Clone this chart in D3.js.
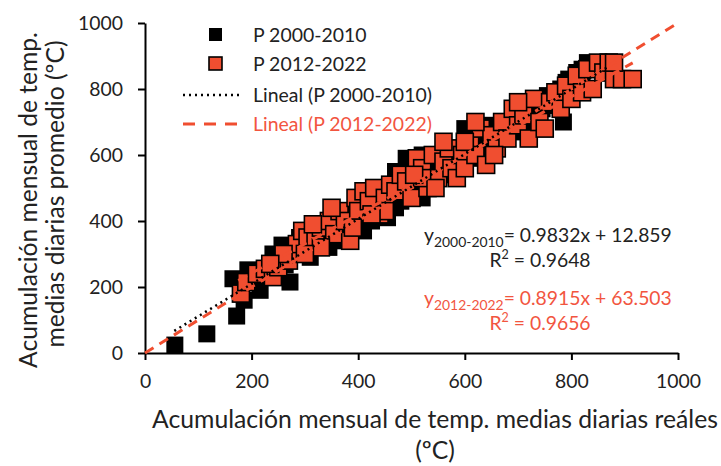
<!DOCTYPE html>
<html><head><meta charset="utf-8">
<script src="https://cdn.jsdelivr.net/npm/d3@7"></script>
<style>
body{margin:0;background:#fff;}
text{font-family:Lato,"Open Sans",sans-serif;}
</style></head>
<body><svg id="c" width="721" height="466"></svg>
<script>
const xTicks = [0,200,400,600,800,1000];
const yTicks = [0,200,400,600,800,1000];
const seriesNames = ["P 2000-2010","P 2012-2022"];
const lineNames = ["Lineal (P 2000-2010)","Lineal (P 2012-2022)"];
const fitBlack = {slope:0.9832, intercept:12.859, r2:0.9648, xmin:55, xmax:870};
const fitRed = {slope:0.8915, intercept:63.503, r2:0.9656, xmin:175, xmax:915};
const blackPts = [[56,24],[116,58],[172,112],[186,160],[165,225],[193,252],[216,190],[272,215],[257,327],[263,267],[205,240],[228,250],[250,280],[280,300],[300,310],[310,290],[330,330],[345,320],[360,350],[370,340],[385,375],[400,390],[410,370],[425,400],[440,420],[455,410],[470,440],[480,460],[495,470],[510,490],[520,470],[530,510],[545,520],[560,540],[575,560],[585,545],[600,580],[615,600],[625,590],[640,620],[650,640],[660,630],[675,660],[690,690],[700,670],[715,700],[730,720],[745,740],[760,750],[775,760],[785,700],[790,820],[800,790],[810,850],[820,830],[835,860],[845,870],[860,870],[870,860],[240,300],[290,350],[320,360],[350,380],[380,420],[420,450],[460,480],[500,530],[540,560],[580,600],[620,640],[660,680],[700,720],[740,770],[780,800],[820,860],[265,320],[315,335],[355,365],[395,410],[435,460],[475,500],[515,540],[555,580],[595,620],[635,660],[675,700],[715,740],[755,780],[795,830],[830,880],[705,760],[645,690],[690,740],[565,620],[450,500],[470,550],[520,600],[490,590],[600,680]];
const redPts = [[180,180],[190,215],[210,240],[225,255],[240,230],[250,260],[270,280],[285,330],[295,370],[305,350],[320,340],[330,380],[345,400],[355,360],[365,430],[375,400],[385,340],[395,470],[400,430],[410,490],[420,460],[430,500],[440,420],[450,470],[460,510],[470,490],[480,540],[490,520],[500,470],[510,590],[520,560],[530,500],[540,600],[550,530],[560,580],[570,620],[575,560],[585,530],[595,600],[600,560],[610,640],[620,600],[630,680],[640,570],[650,660],[660,620],[670,700],[680,650],[690,740],[700,690],[710,720],[720,650],[730,770],[740,700],[750,680],[760,760],[770,790],[780,740],[790,810],[800,770],[810,840],[820,790],[830,860],[840,800],[850,880],[860,850],[870,880],[880,830],[895,830],[915,830],[880,880],[620,700],[560,640],[520,530],[450,430],[390,380],[330,320],[300,300],[260,300],[235,270],[600,640],[700,760],[655,600],[505,540],[545,500],[425,420],[350,440],[315,390]];

const RED = "#f04e30", RED_TXT = "#f2553f", TXT = "#222";
const svg = d3.select("#c");
const x = d3.scaleLinear().domain([0,1000]).range([145,678]);
const y = d3.scaleLinear().domain([0,1000]).range([353,23]);

// size a font so a reference text reaches a given width
function fitSize(str, base, target){
  const t = svg.append("text").attr("font-size",base).text(str);
  const w = t.node().getComputedTextLength(); t.remove();
  return base*target/w;
}
const tickFS = fitSize("1000",18,45);
const titleFS = fitSize("Acumulación mensual de temp. medias diarias reáles",21,566);
const yTitleFS = fitSize("Acumulación mensual de temp.",21,336);
const legFS = fitSize(lineNames[0],17,179);
const eqFS = fitSize("0.9832x + 12.859",19,152);

// axes
const ax = svg.append("g").attr("transform","translate(0,353)")
  .call(d3.axisBottom(x).tickValues(xTicks).tickFormat(d3.format("d")).tickSize(7).tickSizeOuter(0).tickPadding(12));
const ay = svg.append("g").attr("transform","translate(145,0)")
  .call(d3.axisLeft(y).tickValues(yTicks).tickFormat(d3.format("d")).tickSize(7).tickSizeOuter(0).tickPadding(15));
[ax,ay].forEach(a=>{
  a.select(".domain").attr("stroke","#000").attr("stroke-width",2);
  a.selectAll(".tick line").attr("stroke","#000").attr("stroke-width",2);
  a.selectAll(".tick text").attr("font-size",tickFS).attr("fill",TXT).attr("font-family","Lato");
});
ax.selectAll(".tick text").attr("dy","0.85em");
ay.selectAll(".tick text").attr("dy","0.35em");

// markers
const S = 17;
svg.append("g").selectAll("rect").data(blackPts).join("rect")
  .attr("x",d=>x(d[0])-S/2).attr("y",d=>y(d[1])-S/2).attr("width",S).attr("height",S)
  .attr("fill","#000");
svg.append("g").selectAll("rect").data(redPts).join("rect")
  .attr("x",d=>x(d[0])-S/2).attr("y",d=>y(d[1])-S/2).attr("width",S).attr("height",S)
  .attr("fill",RED).attr("stroke","#000").attr("stroke-width",1.6);

// lines
const line = d3.line().x(d=>x(d[0])).y(d=>y(d[1]));
svg.append("path").datum([[0,0],[1000,1000]]).attr("d",line)
  .attr("stroke",RED).attr("stroke-width",3).attr("stroke-dasharray","10,7").attr("fill","none");
svg.append("path").datum([[fitRed.xmin,fitRed.slope*fitRed.xmin+fitRed.intercept],[fitRed.xmax,fitRed.slope*fitRed.xmax+fitRed.intercept]]).attr("d",line)
  .attr("stroke",RED).attr("stroke-width",3).attr("stroke-dasharray","10,7").attr("fill","none");
svg.append("path").datum([[fitBlack.xmin,fitBlack.slope*fitBlack.xmin+fitBlack.intercept],[fitBlack.xmax,fitBlack.slope*fitBlack.xmax+fitBlack.intercept]]).attr("d",line)
  .attr("stroke","#000").attr("stroke-width",2.5).attr("stroke-dasharray","2,4").attr("fill","none");

// legend
const lg = svg.append("g");
lg.append("rect").attr("x",209).attr("y",28).attr("width",13).attr("height",13).attr("fill","#000");
lg.append("rect").attr("x",209).attr("y",57).attr("width",13).attr("height",13).attr("fill",RED).attr("stroke","#000").attr("stroke-width",1.6);
lg.append("line").attr("x1",183).attr("x2",240).attr("y1",95).attr("y2",95).attr("stroke","#000").attr("stroke-width",2.5).attr("stroke-dasharray","2,4");
lg.append("line").attr("x1",183).attr("x2",243).attr("y1",124).attr("y2",124).attr("stroke",RED).attr("stroke-width",3).attr("stroke-dasharray","12,9");
const lt = [[seriesNames[0],35,TXT],[seriesNames[1],64,TXT],[lineNames[0],95,TXT],[lineNames[1],124,RED_TXT]];
lt.forEach(t=>lg.append("text").attr("x",253).attr("y",t[1]).attr("dy","0.35em").attr("font-size",legFS).attr("fill",t[2]).text(t[0]));

// equations
function eq(yb, sub, fit, col){
  const t = svg.append("text").attr("x",424).attr("y",yb).attr("font-size",eqFS).attr("fill",col);
  t.append("tspan").text("y");
  t.append("tspan").attr("font-size",eqFS*0.72).attr("dy",5).text(sub);
  t.append("tspan").attr("dy",-5).text("= " + fit.slope.toFixed(4) + "x + " + fit.intercept.toFixed(3));
  const r = svg.append("text").attr("x",540).attr("y",yb+25).attr("font-size",eqFS).attr("fill",col).attr("text-anchor","middle");
  r.append("tspan").text("R");
  r.append("tspan").attr("font-size",eqFS*0.65).attr("dy",-8).text("2");
  r.append("tspan").attr("dy",8).text(" = " + fit.r2.toFixed(4));
}
eq(242,"2000-2010",fitBlack,TXT);
eq(305,"2012-2022",fitRed,RED_TXT);

// axis titles
svg.append("text").attr("x",435).attr("y",428).attr("text-anchor","middle").attr("font-size",titleFS).attr("fill",TXT)
  .text("Acumulación mensual de temp. medias diarias reáles");
svg.append("text").attr("x",435).attr("y",459).attr("text-anchor","middle").attr("font-size",titleFS).attr("fill",TXT).text("(ºC)");
const yt = svg.append("g").attr("transform","translate(0,200) rotate(-90)");
yt.append("text").attr("x",0).attr("y",37).attr("text-anchor","middle").attr("font-size",yTitleFS).attr("fill",TXT).text("Acumulación mensual de temp.");
yt.append("text").attr("x",6).attr("y",64).attr("text-anchor","middle").attr("font-size",yTitleFS).attr("fill",TXT).text("medias diarias promedio (ºC)");
</script></body></html>
